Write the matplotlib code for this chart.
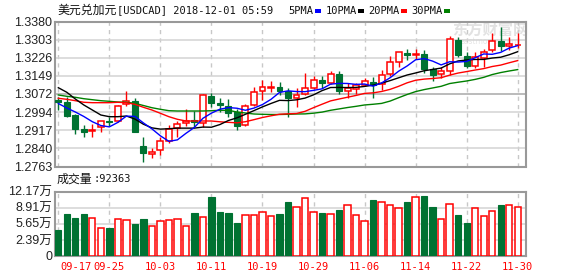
import matplotlib
matplotlib.use('Agg')
import matplotlib.pyplot as plt
import matplotlib.transforms as mtrans
from matplotlib.patches import Rectangle
import numpy as np
import pandas as pd

# ---------------- data ----------------
tick_idx = [0, 6, 12, 18, 24, 30, 36, 42, 48, 54]
tick_labels = ['09-17', '09-25', '10-03', '10-11', '10-19',
               '10-29', '11-06', '11-14', '11-22', '11-30']

open_ = [1.30464, 1.30378, 1.29824, 1.29241, 1.29130, 1.29326, 1.29548, 1.29548, 1.30272, 1.30442,
         1.28504, 1.28150, 1.28312, 1.28717, 1.29283, 1.29496, 1.29611, 1.29496, 1.30634, 1.30323,
         1.30187, 1.29952, 1.29398, 1.30251, 1.30868, 1.30962, 1.31030, 1.30834, 1.30562, 1.30706,
         1.30996, 1.31316, 1.31188, 1.31559, 1.30860, 1.30945, 1.31103, 1.31231, 1.31145, 1.31571,
         1.32070, 1.32466, 1.32394, 1.32424, 1.31772, 1.31559, 1.31699, 1.32999, 1.32326, 1.31925,
         1.32253, 1.32594, 1.32978, 1.32777, 1.32786]
high = [1.30604, 1.30591, 1.29888, 1.29398, 1.29420, 1.29569, 1.29718, 1.30251, 1.30847, 1.30528,
        1.28908, 1.28406, 1.28866, 1.29398, 1.29569, 1.30067, 1.29995, 1.30706, 1.30749, 1.30549,
        1.30485, 1.30059, 1.30272, 1.31030, 1.31316, 1.31252, 1.31231, 1.30996, 1.30962, 1.31614,
        1.31486, 1.31486, 1.31699, 1.31699, 1.31175, 1.31209, 1.31401, 1.31444, 1.31742, 1.32338,
        1.32509, 1.32658, 1.32624, 1.32615, 1.31870, 1.31883, 1.33191, 1.33127, 1.32522, 1.32530,
        1.32658, 1.33306, 1.33587, 1.33148, 1.33306]
low = [1.30038, 1.29718, 1.29036, 1.28866, 1.28866, 1.29113, 1.29377, 1.29526, 1.30187, 1.29079,
       1.27835, 1.28005, 1.28099, 1.28631, 1.28908, 1.29356, 1.29334, 1.29326, 1.30178, 1.29965,
       1.29739, 1.29164, 1.29356, 1.30229, 1.30464, 1.30805, 1.30677, 1.29752, 1.30178, 1.30677,
       1.30932, 1.30996, 1.31145, 1.30706, 1.30549, 1.30719, 1.31039, 1.30570, 1.30890, 1.31465,
       1.31883, 1.32155, 1.32198, 1.31614, 1.31273, 1.31401, 1.31529, 1.32296, 1.31827, 1.31827,
       1.31891, 1.32530, 1.32552, 1.32594, 1.32679]
close = [1.30378, 1.29803, 1.29249, 1.29087, 1.29173, 1.29569, 1.29513, 1.30208, 1.30421, 1.29113,
         1.28184, 1.28248, 1.28717, 1.29249, 1.29428, 1.29569, 1.29513, 1.30664, 1.30349, 1.30263,
         1.29910, 1.29377, 1.30229, 1.30817, 1.31018, 1.31018, 1.30847, 1.30562, 1.30677, 1.30988,
         1.31295, 1.31175, 1.31559, 1.30847, 1.30962, 1.31103, 1.31252, 1.31103, 1.31529, 1.32070,
         1.32496, 1.32368, 1.32424, 1.31785, 1.31529, 1.31687, 1.33042, 1.32360, 1.31921, 1.32309,
         1.32496, 1.32965, 1.32773, 1.32837, 1.32828]
# volume in 万 (10k)
volume = [4.92, 7.95, 7.19, 7.95, 7.13, 5.24, 5.24, 6.95, 6.76, 6.06,
          7.00, 5.62, 6.57, 6.76, 6.95, 5.62, 8.14, 7.32, 11.17, 8.33,
          8.14, 6.25, 7.76, 7.76, 8.27, 7.57, 7.95, 10.22, 9.22, 10.92,
          8.27, 8.08, 7.89, 8.71, 9.65, 7.76, 6.57, 10.60, 10.16, 9.65,
          9.03, 10.22, 11.11, 11.36, 9.27, 6.95, 9.78, 7.76, 6.25, 9.03,
          7.51, 8.46, 9.65, 9.65, 9.2363]

# moving-average values before each window is complete
ma5_head = [1.30315, 1.30123, 1.29952, 1.29761]
ma10_head = [1.30988, 1.30792, 1.30506, 1.30251, 1.30038, 1.29824, 1.29752, 1.29752, 1.29782]
ma20_head = [1.30536, 1.30493, 1.30434, 1.30366, 1.30349, 1.30349, 1.30349, 1.30366, 1.30349, 1.30280,
             1.30153, 1.30038, 1.29897, 1.29752, 1.29641, 1.29569, 1.29569, 1.29569, 1.29569]
ma30_head = [1.30677, 1.30621, 1.30579, 1.30519, 1.30476, 1.30434, 1.30408, 1.30378, 1.30366, 1.30323,
             1.30229, 1.30135, 1.30067, 1.30008, 1.29995, 1.29995, 1.29995, 1.29995, 1.30008, 1.30025,
             1.30025, 1.29952, 1.29910, 1.29867, 1.29854, 1.29846, 1.29846, 1.29854, 1.29867]

price_ticks = [1.2763, 1.2840, 1.2917, 1.2994, 1.3072, 1.3149, 1.3226, 1.3303, 1.3380]
vol_tick_labels = ['0', '2.39万', '5.65万', '8.91万', '12.17万']
vol_max = 12.17

title_cn = '美元兑加元'
title_rest = '[USDCAD] 2018-12-01 05:59'
vol_title_cn = '成交量'
vol_title_rest = ':92363'
ma_names = ['5PMA', '10PMA', '20PMA', '30PMA']

# ---------------- style ----------------
W, H = 578, 276
RED = '#ff0000'
GREEN = '#007232'
MA_COLORS = ['#0000ff', '#000000', '#ff0000', '#008000']
GRID = '#d3d3d3'
BORDER = '#999999'
MONO = ['DejaVu Sans Mono', 'Noto Sans CJK SC']
CJK = ['Noto Sans CJK SC', 'DejaVu Sans']
NUM = ['Liberation Sans', 'Noto Sans CJK SC']

def fx(x):
    return x / W

def fy(y):
    return 1 - y / H

fig = plt.figure(figsize=(W / 100, H / 100), dpi=100)
fig.patch.set_facecolor('white')

L, R = 55, 525.7
axp = fig.add_axes([fx(L), fy(166.5), fx(R - L), (166.5 - 21.7) / H])
axv = fig.add_axes([fx(L), fy(256), fx(R - L), (256 - 191.7) / H])

n = len(close)
x = np.arange(n)
o = np.array(open_); c = np.array(close); h = np.array(high); l = np.array(low)
up = c >= o

closes = pd.Series(close)
def moving(nw, head):
    m = closes.rolling(nw).mean().to_numpy()
    m[:nw - 1] = head
    return m

mas = [moving(5, ma5_head), moving(10, ma10_head), moving(20, ma20_head), moving(30, ma30_head)]

xlim = (-0.39, 54.94)
for ax in (axp, axv):
    ax.set_xlim(*xlim)
    ax.set_facecolor('none')
    for s in ax.spines.values():
        s.set_color(BORDER)
        s.set_linewidth(1.5)
    ax.tick_params(length=0)
    ax.set_xticks([])
    for i in tick_idx:
        ax.axvline(i, color='#c8c8c8', lw=1, ls=(0, (3, 3)), zorder=0)

# watermark (behind the axes content)
fig.text(fx(452), fy(30), '东方财富网', family=CJK, fontsize=11, fontweight='bold',
         color='#e2e2e2', va='center', ha='left', zorder=-1)
fig.text(fx(460), fy(41.5), 'eastmoney.com', family=['DejaVu Sans'], fontsize=5.5,
         color='#e6e6e6', va='center', ha='left', zorder=-1)

# price panel
axp.set_ylim(price_ticks[0], price_ticks[-1])
for k, t in enumerate(price_ticks[1:-1]):
    col = '#a8a8a8' if t == price_ticks[4] else GRID
    axp.axhline(t, color=col, lw=1.1, zorder=0)
axp.set_yticks(price_ticks)
axp.set_yticklabels([f'{t:.4f}' for t in price_ticks], family=NUM, fontsize=9, color='#222222')
axp.tick_params(axis='y', pad=2)

bw = 0.7
for i in range(n):
    if up[i]:
        axp.vlines(x[i], l[i], h[i], color=RED, lw=1, zorder=2)
        bot, top = o[i], c[i]
        axp.add_patch(Rectangle((x[i] - bw / 2, bot), bw, max(top - bot, 0.00002),
                                facecolor='white', edgecolor=RED, lw=1.1, zorder=3))
    else:
        axp.vlines(x[i], l[i], h[i], color=GREEN, lw=1, zorder=2)
        axp.add_patch(Rectangle((x[i] - bw / 2, c[i]), bw, max(o[i] - c[i], 0.00002),
                                facecolor=GREEN, edgecolor=GREEN, lw=0.8, zorder=3))

for m, col in zip(mas[::-1], MA_COLORS[::-1]):
    axp.plot(x, m, color=col, lw=1.0, zorder=4)

# volume panel
axv.set_ylim(0, vol_max)
vt = np.linspace(0, vol_max, 5)
for t in vt[1:-1]:
    axv.axhline(t, color=GRID, lw=1.1, zorder=0)
axv.set_yticks(vt)
axv.set_yticklabels(vol_tick_labels, family=NUM, fontsize=9, color='#222222')
axv.tick_params(axis='y', pad=2)
vw = 0.74
for i in range(n):
    if up[i]:
        axv.bar(x[i], volume[i], width=vw, facecolor='white', edgecolor=RED, lw=1.1, zorder=3)
    else:
        axv.bar(x[i], volume[i], width=vw, facecolor=GREEN, edgecolor=GREEN, lw=0.8, zorder=3)

trans = mtrans.blended_transform_factory(axv.transData, axv.transAxes)
for k, (i, lab) in enumerate(zip(tick_idx, tick_labels)):
    if k == 0:
        axv.text(i + 0.2, -0.165, lab, transform=trans, ha='left', va='center',
                 family=MONO, fontsize=7.5, color=RED, clip_on=False)
    else:
        axv.text(i, -0.165, lab, transform=trans, ha='center', va='center',
                 family=MONO, fontsize=7.5, color=RED, clip_on=False)

# titles
fig.text(fx(57), fy(10.5), title_cn, family=CJK, fontsize=8.6, va='center', ha='left', color='#111111')
fig.text(fx(117), fy(10.5), title_rest, family=MONO, fontsize=7.5, va='center', ha='left', color='#111111')
fig.text(fx(57), fy(179.5), vol_title_cn, family=CJK, fontsize=8.6, va='center', ha='left', color='#111111')
fig.text(fx(93), fy(179.5), vol_title_rest, family=MONO, fontsize=7.5, va='center', ha='left', color='#111111')

# MA legend
leg_text_x = [288, 326, 368, 411]
leg_mark_x = [315, 358, 401, 444]
for name, tx, mx, col in zip(ma_names, leg_text_x, leg_mark_x, MA_COLORS):
    fig.text(fx(tx), fy(10.5), name, family=MONO, fontsize=7.5, va='center', ha='left', color='#111111')
    fig.add_artist(Rectangle((fx(mx), fy(12.5)), 6 / W, 3 / H, transform=fig.transFigure,
                             facecolor=col, edgecolor='none'))

fig.savefig('out.png', dpi=100)
